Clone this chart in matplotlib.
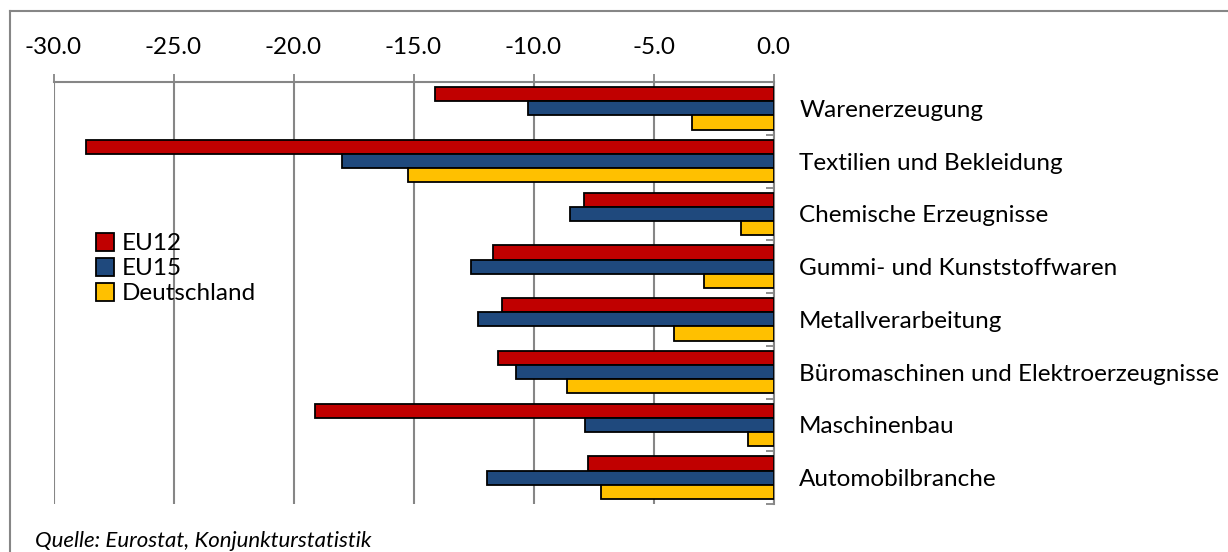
import numpy as np
import matplotlib
matplotlib.use("Agg")
import matplotlib.pyplot as plt
from matplotlib.lines import Line2D
from matplotlib.patches import Patch

plt.rcParams['font.family'] = ['Lato', 'DejaVu Sans']

branchen = ["Warenerzeugung", "Textilien und Bekleidung", "Chemische Erzeugnisse",
            "Gummi- und Kunststoffwaren", "Metallverarbeitung",
            "Büromaschinen und Elektroerzeugnisse", "Maschinenbau", "Automobilbranche"]
eu12 = [-14.1, -28.65, -7.9, -11.7, -11.3, -11.5, -19.1, -7.75]
eu15 = [-10.25, -18.0, -8.5, -12.6, -12.3, -10.75, -7.85, -11.95]
deutschland = [-3.4, -15.25, -1.35, -2.9, -4.15, -8.6, -1.05, -7.2]

serien = ["EU12", "EU15", "Deutschland"]
farben = ["#C00000", "#1F497D", "#FFC000"]
grau = "#868686"
fs = 17.5

fig = plt.figure(figsize=(12.28, 5.52), dpi=100)
ax = fig.add_axes([53.5 / 1228, 1 - 504 / 552, 720 / 1228, 422 / 552])

pos = np.arange(len(branchen))
h = 0.27
for k, (werte, farbe) in enumerate(zip([eu12, eu15, deutschland], farben)):
    ax.barh(pos + (k - 1) * h, werte, height=h, color=farbe,
            edgecolor="black", linewidth=1.3, zorder=3)

ax.set_xlim(-30, 0)
ax.set_ylim(len(branchen) - 0.5, -0.5)

# Werteachse oben
ax.xaxis.tick_top()
ax.set_xticks(np.arange(-30, 0.1, 5))
ax.set_xticklabels([f"{v:.1f}" for v in np.arange(-30, 0.1, 5)])
ax.tick_params(axis="x", length=6, width=1.3, color=grau, pad=11, labelsize=fs)
ax.grid(axis="x", color=grau, linewidth=1.5, zorder=0)

# Kategorieachse bei 0 mit Beschriftung rechts
ax.yaxis.tick_right()
ax.set_yticks(pos)
ax.set_yticklabels(branchen)
ax.set_yticks(np.arange(-0.5, len(branchen)), minor=True)
ax.tick_params(axis="y", which="major", length=0, pad=18.5, labelsize=fs)
ax.tick_params(axis="y", which="minor", length=6, width=1.3, color=grau, direction="in")

for s in ["left", "bottom"]:
    ax.spines[s].set_visible(False)
for s in ["top", "right"]:
    ax.spines[s].set_color(grau)
    ax.spines[s].set_linewidth(1.5)

handles = [Patch(facecolor=f, edgecolor="black", linewidth=1.3) for f in farben]
ax.legend(handles, serien, loc="upper left", bbox_to_anchor=(96 / 1228, 1 - 233 / 552),
          bbox_transform=fig.transFigure, frameon=False, fontsize=fs,
          handlelength=0.75, handleheight=0.75, handletextpad=0.3,
          labelspacing=0.15, borderpad=0, borderaxespad=0)

# Rahmen des Diagrammbereichs
fig.add_artist(Line2D([10 / 1228, 10 / 1228], [0, 1 - 11 / 552], color=grau, linewidth=1.5))
fig.add_artist(Line2D([10 / 1228, 1], [1 - 11 / 552, 1 - 11 / 552], color=grau, linewidth=1.5))

fig.text(35 / 1228, 1 - 541 / 552, "Quelle: Eurostat, Konjunkturstatistik",
         fontsize=16, style="italic", va="center", ha="left")

fig.savefig("out.png", dpi=100)
